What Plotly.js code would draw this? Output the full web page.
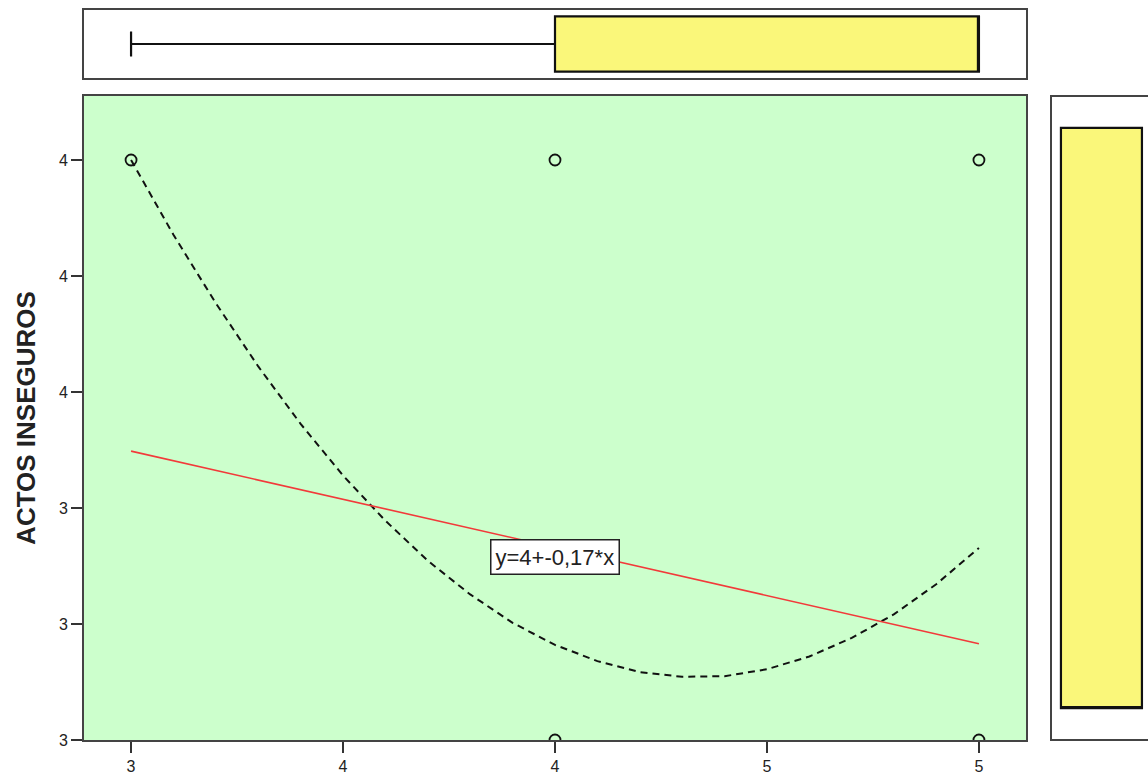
<!DOCTYPE html>
<html>
<head>
<meta charset="utf-8">
<script src="https://cdn.plot.ly/plotly-3.0.1.min.js"></script>
<style>html,body{margin:0;padding:0;background:#fff;}#chart{width:1148px;height:779px;}</style>
</head>
<body>
<div id="chart"></div>
<script>
// Observed points
const pointsX = [3, 4, 5, 4, 5];
const pointsY = [4, 4, 4, 3, 3];

// Linear fit line
const fitX = [3, 5];
const fitY = [3.498, 3.166];
const fitLabel = 'y=4+-0,17*x';

// Quadratic fit curve
const curveX = [3.0, 3.1, 3.2, 3.3, 3.4, 3.5, 3.6, 3.7, 3.8, 3.9, 4.0, 4.1, 4.2, 4.3, 4.4, 4.5, 4.6, 4.7, 4.8, 4.9, 5.0];
const curveY = [4.000, 3.871, 3.753, 3.644, 3.545, 3.456, 3.378, 3.309, 3.251, 3.202, 3.164, 3.136, 3.117, 3.109, 3.110, 3.122, 3.144, 3.176, 3.217, 3.269, 3.331];

// Marginal box plot statistics
const boxXStats = {q1: [4], median: [5], q3: [5], lowerfence: [3], upperfence: [5]};
const boxYStats = {q1: [3], median: [3], q3: [4], lowerfence: [3], upperfence: [4]};

// Tick labels
const xTickVals = [3, 3.5, 4, 4.5, 5];
const xTickText = ['3', '4', '4', '5', '5'];
const yTickVals = [3, 3.2, 3.4, 3.6, 3.8, 4];
const yTickText = ['3', '3', '3', '4', '4', '4'];

const yTitle = 'ACTOS INSEGUROS';

const W = 1148, H = 779;
const FONT = 'Liberation Sans, Arial, sans-serif';
const mainX = [84 / W, 1026 / W];
const mainY = [(H - 740) / H, (H - 96) / H];
const topY = [(H - 78) / H, (H - 10) / H];
const rightX = [1051 / W, 1];

const traces = [
  {
    type: 'scatter', mode: 'lines', x: curveX, y: curveY, xaxis: 'x', yaxis: 'y',
    line: {color: '#111', width: 2, dash: '7px,5px'}, hoverinfo: 'skip'
  },
  {
    type: 'scatter', mode: 'lines', x: fitX, y: fitY, xaxis: 'x', yaxis: 'y',
    line: {color: '#f23a3a', width: 1.6}, hoverinfo: 'skip'
  },
  {
    type: 'scatter', mode: 'markers', x: pointsX, y: pointsY, xaxis: 'x', yaxis: 'y',
    marker: {symbol: 'circle-open', size: 11, color: '#111', line: {width: 1.8, color: '#111'}},
    hoverinfo: 'skip'
  },
  Object.assign({
    type: 'box', orientation: 'h', y: [0], xaxis: 'x2', yaxis: 'y2',
    fillcolor: '#faf77a', line: {color: '#111', width: 2.2},
    width: 0.81, whiskerwidth: 0.45, boxpoints: false, hoverinfo: 'skip'
  }, boxXStats),
  Object.assign({
    type: 'box', x: [0], xaxis: 'x3', yaxis: 'y3',
    fillcolor: '#faf77a', line: {color: '#111', width: 2.2},
    width: 0.835, whiskerwidth: 0.45, boxpoints: false, hoverinfo: 'skip'
  }, boxYStats)
];

const frameLine = {showline: true, mirror: true, linecolor: '#444', linewidth: 2};

const layout = {
  width: W, height: H,
  margin: {l: 0, r: 0, t: 0, b: 0},
  paper_bgcolor: '#ffffff', plot_bgcolor: '#ffffff',
  showlegend: false,
  font: {family: FONT, color: '#222'},
  xaxis: Object.assign({
    domain: mainX, range: [2.889, 5.111], anchor: 'y',
    tickvals: xTickVals, ticktext: xTickText,
    ticks: 'outside', ticklen: 11, tickwidth: 2, tickcolor: '#333',
    tickfont: {size: 16, family: FONT, color: '#222'},
    showgrid: false, zeroline: false
  }, frameLine),
  yaxis: Object.assign({
    domain: mainY, range: [3, 4.1103], anchor: 'x',
    tickvals: yTickVals, ticktext: yTickText,
    ticks: 'outside', ticklen: 11, tickwidth: 2, tickcolor: '#333',
    tickfont: {size: 16, family: FONT, color: '#222'},
    showgrid: false, zeroline: false,
    title: {text: '<b>' + yTitle + '</b>', font: {size: 26, family: FONT, color: '#222'}, standoff: 16}
  }, frameLine),
  xaxis2: Object.assign({
    domain: mainX, range: [2.889, 5.111], anchor: 'y2',
    showticklabels: false, ticks: '', showgrid: false, zeroline: false
  }, frameLine),
  yaxis2: Object.assign({
    domain: topY, range: [-0.5, 0.5], anchor: 'x2',
    showticklabels: false, ticks: '', showgrid: false, zeroline: false
  }, frameLine),
  xaxis3: {
    domain: rightX, range: [-0.52, 0.48], anchor: 'y3',
    showticklabels: false, ticks: '', showgrid: false, zeroline: false, showline: false
  },
  yaxis3: {
    domain: mainY, range: [2.945, 4.055], anchor: 'x3',
    showticklabels: false, ticks: '', showgrid: false, zeroline: false, showline: false
  },
  shapes: [
    {type: 'rect', xref: 'x domain', yref: 'y domain', x0: 0, x1: 1, y0: 0, y1: 1,
     fillcolor: '#ccffcc', line: {width: 0}, layer: 'below'},
    {type: 'rect', xref: 'paper', yref: 'paper', x0: rightX[0], x1: 1.05, y0: mainY[0], y1: mainY[1],
     fillcolor: 'rgba(0,0,0,0)', line: {color: '#444', width: 2}, layer: 'above'}
  ],
  annotations: [
    {x: 4, y: 3.316, xref: 'x', yref: 'y', text: fitLabel, showarrow: false,
     bgcolor: '#ffffff', bordercolor: '#222', borderwidth: 1.5, borderpad: 4,
     font: {size: 22, family: FONT, color: '#222'}}
  ]
};

Plotly.newPlot('chart', traces, layout, {staticPlot: true, displayModeBar: false});
</script>
</body>
</html>
